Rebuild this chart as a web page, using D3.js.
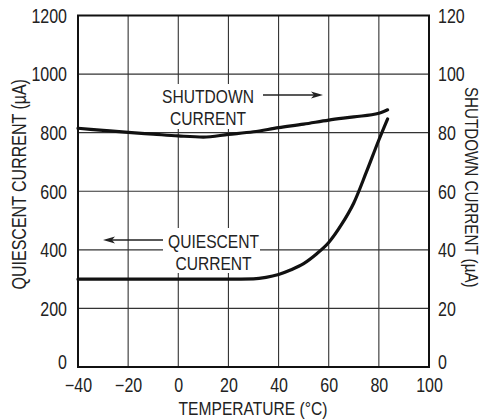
<!DOCTYPE html>
<html><head><meta charset="utf-8">
<script src="https://cdn.jsdelivr.net/npm/d3@7"></script>
<style>
body{margin:0;background:#fff;}
svg text{font-family:"Liberation Sans",Arial,sans-serif;fill:#222;}
</style></head>
<body>
<svg id="chart" width="493" height="420"></svg>
<script>
// Data
const xTicks = [-40, -20, 0, 20, 40, 60, 80, 100];
const yLeftTicks = [0, 200, 400, 600, 800, 1000, 1200];
const yRightTicks = [0, 20, 40, 60, 80, 100, 120];

const quiescentTemp = [-40, -20, 0, 20, 30, 35, 40, 45, 50, 55, 60, 65, 70, 75, 80, 83.5];
const quiescentUA   = [300, 300, 300, 300, 301, 306, 316, 332, 353, 385, 425, 485, 560, 665, 775, 847];

const shutdownTemp = [-40, -30, -20, -10, 0, 10, 20, 30, 40, 50, 60, 70, 80, 83.5];
const shutdownUA   = [81.5, 80.8, 80.1, 79.5, 78.9, 78.5, 79.4, 80.3, 81.7, 82.9, 84.3, 85.4, 86.6, 87.8];

const m = {l: 78, r: 429, t: 15.5, b: 367};
const svg = d3.select("#chart");

const x = d3.scaleLinear().domain([-40, 100]).range([m.l, m.r]);
const yL = d3.scaleLinear().domain([0, 1200]).range([m.b, m.t]);
const yR = d3.scaleLinear().domain([0, 120]).range([m.b, m.t]);

// gridlines
const grid = svg.append("g").attr("stroke", "#333").attr("stroke-width", 1.1);
xTicks.slice(1, -1).forEach(t => grid.append("line")
  .attr("x1", x(t)).attr("x2", x(t)).attr("y1", m.t).attr("y2", m.b));
yLeftTicks.slice(1, -1).forEach(t => grid.append("line")
  .attr("x1", m.l).attr("x2", m.r).attr("y1", yL(t)).attr("y2", yL(t)));

// frame
svg.append("rect").attr("x", m.l).attr("y", m.t).attr("width", m.r - m.l).attr("height", m.b - m.t)
  .attr("fill", "none").attr("stroke", "#111").attr("stroke-width", 2);

// axes (labels only)
const fmt = d3.format("d");
const axL = svg.append("g").attr("transform", `translate(${m.l},0)`)
  .call(d3.axisLeft(yL).tickValues(yLeftTicks).tickFormat(fmt).tickSize(0).tickPadding(11));
const axR = svg.append("g").attr("transform", `translate(${m.r},0)`)
  .call(d3.axisRight(yR).tickValues(yRightTicks).tickFormat(fmt).tickSize(0).tickPadding(9));
const axB = svg.append("g").attr("transform", `translate(0,${m.b})`)
  .call(d3.axisBottom(x).tickValues(xTicks).tickFormat(d => d < 0 ? "\u2212" + Math.abs(d) : String(d)).tickSize(0).tickPadding(11));
[axL, axR, axB].forEach(a => {
  a.select(".domain").remove();
  a.selectAll("text").attr("font-size", "19.5px").attr("fill", "#222")
    .style("font-family", '"Liberation Sans",Arial,sans-serif');
});
axL.selectAll(".tick text").attr("dy", "0.35em");
axR.selectAll(".tick text").attr("dy", "0.35em");
axL.selectAll(".tick").filter(d => d === 0).select("text").attr("dy", "0.1em");
axR.selectAll(".tick").filter(d => d === 0).select("text").attr("dy", "0.1em");

// axis titles
svg.append("text").attr("transform", `translate(26,${(m.t + m.b) / 2 - 7}) rotate(-90)`)
  .attr("text-anchor", "middle").attr("font-size", "19.5px").text("QUIESCENT CURRENT (µA)");
svg.append("text").attr("transform", `translate(465,${(m.t + m.b) / 2 - 4}) rotate(90)`)
  .attr("text-anchor", "middle").attr("font-size", "18.5px").text("SHUTDOWN CURRENT (µA)");
svg.append("text").attr("x", 253).attr("y", 415)
  .attr("text-anchor", "middle").attr("font-size", "19px").text("TEMPERATURE (°C)");

// curves
const line = (xs, ys, sy) => d3.line().curve(d3.curveMonotoneX)
  .x((d, i) => x(xs[i])).y((d, i) => sy(ys[i]))(xs);
svg.append("path").attr("d", line(quiescentTemp, quiescentUA, yL))
  .attr("fill", "none").attr("stroke", "#111").attr("stroke-width", 3.2).attr("stroke-linecap", "round");
svg.append("path").attr("d", line(shutdownTemp, shutdownUA, yR))
  .attr("fill", "none").attr("stroke", "#111").attr("stroke-width", 3.2).attr("stroke-linecap", "round");

// annotation labels
function label(cx, lines, base, box, arrow) {
  svg.append("rect").attr("x", box[0]).attr("y", box[1]).attr("width", box[2]).attr("height", box[3]).attr("fill", "#fff");
  lines.forEach((t, i) => svg.append("text").attr("x", cx).attr("y", base + i * 22)
    .attr("text-anchor", "middle").attr("font-size", "19px").text(t));
  const [x1, x2, ay] = arrow;
  const dir = Math.sign(x2 - x1);
  svg.append("line").attr("x1", x1).attr("x2", x2 - dir * 8).attr("y1", ay).attr("y2", ay)
    .attr("stroke", "#222").attr("stroke-width", 1.4);
  svg.append("path").attr("d", `M${x2},${ay} L${x2 - dir * 12},${ay - 3.5} L${x2 - dir * 9},${ay} L${x2 - dir * 12},${ay + 3.5} Z`)
    .attr("fill", "#222");
}
label(208, ["SHUTDOWN", "CURRENT"], 102.5, [158, 84, 100, 45], [263, 323, 95]);
label(213.5, ["QUIESCENT", "CURRENT"], 248, [163, 228, 97, 45], [163, 103, 240]);

// condense all text (narrow typeface look)
svg.selectAll("text").each(function () {
  const w = this.getComputedTextLength();
  d3.select(this).attr("textLength", (w * 0.82).toFixed(1)).attr("lengthAdjust", "spacingAndGlyphs");
});
</script>
</body></html>
